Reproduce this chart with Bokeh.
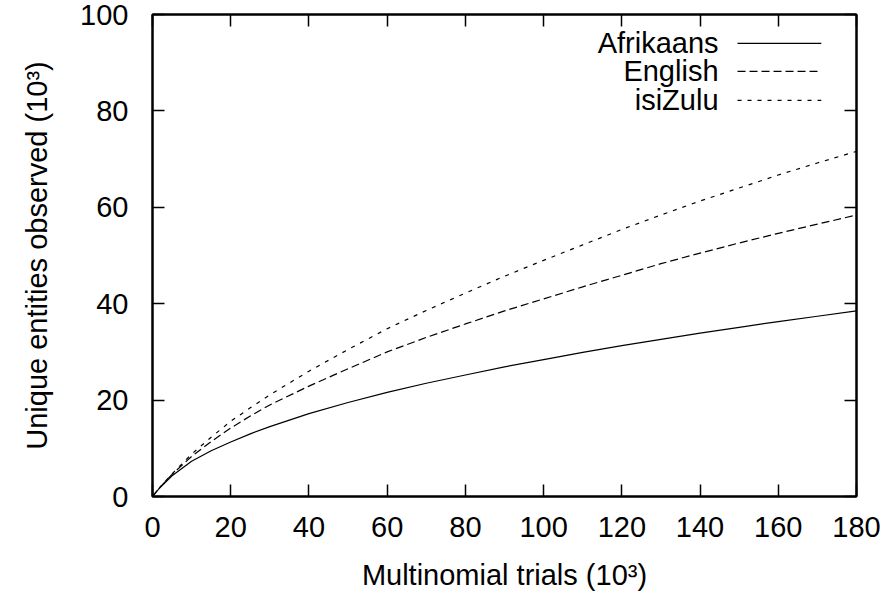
from bokeh.plotting import figure
from bokeh.models import (Range1d, LinearAxis, SingleIntervalTicker,
                          CustomJSTickFormatter, Label, Arrow)
from bokeh.embed import file_html
from bokeh.resources import INLINE

# ---- data (thousands) ----
trials = [0, 1, 2, 5, 10, 15, 20, 25, 30, 40, 50, 60, 70, 80, 90, 100, 110,
          120, 130, 140, 150, 160, 170, 180]
afrikaans = [0, 1.0, 1.9, 4.3, 7.3, 9.5, 11.3, 13.0, 14.5, 17.2, 19.5, 21.6,
             23.5, 25.2, 26.9, 28.4, 29.9, 31.3, 32.6, 33.9, 35.1, 36.3, 37.4,
             38.5]
english = [0, 1.0, 2.0, 4.6, 8.3, 11.4, 14.2, 16.7, 19.0, 22.9, 26.5, 30.0,
           33.0, 35.8, 38.5, 41.0, 43.5, 45.9, 48.3, 50.5, 52.6, 54.6, 56.5,
           58.4]
isizulu = [0, 1.0, 2.0, 4.7, 8.8, 12.3, 15.6, 18.4, 21.1, 26.0, 30.5, 34.8,
           38.6, 42.2, 45.7, 49.0, 52.2, 55.4, 58.4, 61.3, 64.0, 66.7, 69.2,
           71.6]
series_names = ["Afrikaans", "English", "isiZulu"]
x_label = "Multinomial trials (10³)"
y_label = "Unique entities observed (10³)"

FONT = "Liberation Sans"
FS = "29px"
X_MAX, Y_MAX = 180, 100
dashes = ["solid", "8 4", "4 6"]

p = figure(frame_width=704, frame_height=482,
           min_border_left=152, min_border_right=33,
           min_border_top=14, min_border_bottom=98,
           x_range=Range1d(0, X_MAX), y_range=Range1d(0, Y_MAX),
           output_backend="svg", toolbar_location=None,
           background_fill_color="white", border_fill_color="white")
p.xgrid.visible = False
p.ygrid.visible = False
p.outline_line_color = "black"
p.outline_line_width = 2

bottom = p.below[0]
left = p.left[0]
bottom.ticker = SingleIntervalTicker(interval=20)
left.ticker = SingleIntervalTicker(interval=20)

top = LinearAxis(ticker=SingleIntervalTicker(interval=20),
                 formatter=CustomJSTickFormatter(code="return ''"))
right = LinearAxis(ticker=SingleIntervalTicker(interval=20),
                   formatter=CustomJSTickFormatter(code="return ''"))
p.add_layout(top, "above")
p.add_layout(right, "right")

for ax in [bottom, left, top, right]:
    ax.axis_line_width = 2
    ax.axis_line_color = "black"
    ax.major_tick_in = 12
    ax.major_tick_out = 0
    ax.major_tick_line_width = 1.5
    ax.major_tick_line_color = "black"
    ax.minor_tick_line_color = None
    ax.major_label_text_font = FONT
    ax.major_label_text_font_size = FS
    ax.major_label_text_color = "black"

for ax in [top, right]:
    ax.major_label_text_font_size = "0px"
    ax.major_label_standoff = 0

bottom.major_label_standoff = 16
left.major_label_standoff = 20
bottom.axis_label = x_label
left.axis_label = y_label
for ax in [bottom, left]:
    ax.axis_label_text_font = FONT
    ax.axis_label_text_font_size = FS
    ax.axis_label_text_font_style = "normal"
    ax.axis_label_text_color = "black"
bottom.axis_label_standoff = 19
left.axis_label_standoff = 24

series = [afrikaans, english, isizulu]
for vals, dash in zip(series, dashes):
    p.line(trials, vals, line_color="black", line_width=1.2, line_dash=dash)

# legend (gnuplot style: text then sample)
text_x = X_MAX * 0.804
samp_x0 = X_MAX * 0.831
samp_x1 = X_MAX * 0.950
row_y = [Y_MAX * 0.940, Y_MAX * 0.882, Y_MAX * 0.822]
for name, dash, yy in zip(series_names, dashes, row_y):
    p.add_layout(Label(x=text_x, y=yy, text=name, text_align="right",
                       text_baseline="middle", text_font=FONT,
                       text_font_size=FS, text_color="black"))
    p.add_layout(Arrow(start=None, end=None, x_start=samp_x0, y_start=yy,
                       x_end=samp_x1, y_end=yy, line_color="black",
                       line_width=1.2, line_dash=dash))

open("out.html", "w").write(file_html(p, INLINE))
